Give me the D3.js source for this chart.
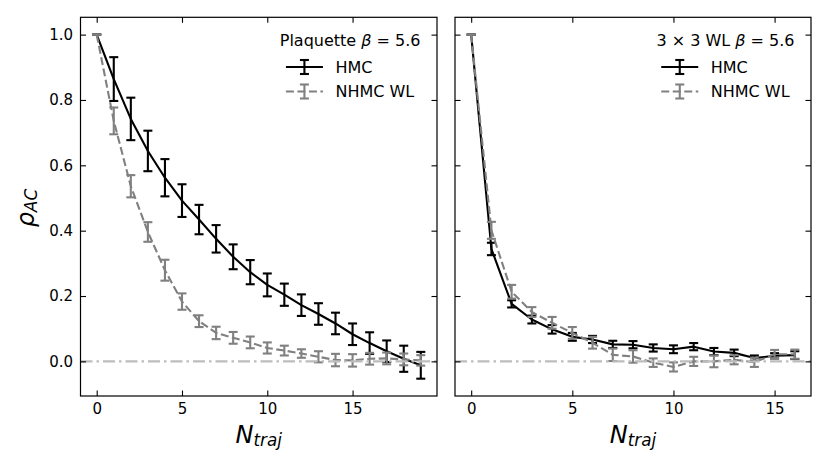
<!DOCTYPE html>
<html>
<head>
<meta charset="utf-8">
<script src="https://cdn.jsdelivr.net/npm/d3@7"></script>
<style>
  body { margin: 0; background: #fff; }
  text { font-family: "DejaVu Sans", sans-serif; fill: #000; }
</style>
</head>
<body>
<div id="chart"></div>
<script>
// Left panel: plaquette autocorrelation
const nTrajPlaq = [0, 1, 2, 3, 4, 5, 6, 7, 8, 9, 10, 11, 12, 13, 14, 15, 16, 17, 18, 19];
const hmcPlaq = [1.0, 0.864, 0.742, 0.644, 0.562, 0.492, 0.434, 0.375, 0.320, 0.273,
                 0.234, 0.204, 0.172, 0.145, 0.116, 0.083, 0.056, 0.031, 0.008, -0.012];
const hmcPlaqErr = [0, 0.067, 0.065, 0.062, 0.057, 0.050, 0.045, 0.042, 0.038, 0.037,
                    0.035, 0.034, 0.033, 0.033, 0.033, 0.033, 0.033, 0.033, 0.040, 0.041];
const nhmcPlaq = [1.0, 0.736, 0.536, 0.396, 0.279, 0.183, 0.123, 0.087, 0.072, 0.058,
                  0.041, 0.033, 0.024, 0.014, 0.004, 0.003, 0.008, 0.009, 0.006, 0.003];
const nhmcPlaqErr = [0, 0.041, 0.034, 0.030, 0.032, 0.025, 0.018, 0.019, 0.018, 0.018,
                     0.017, 0.015, 0.013, 0.017, 0.019, 0.019, 0.018, 0.018, 0.018, 0.016];

// Right panel: 3x3 Wilson loop autocorrelation
const nTrajWL = [0, 1, 2, 3, 4, 5, 6, 7, 8, 9, 10, 11, 12, 13, 14, 15, 16];
const hmcWL = [1.0, 0.344, 0.176, 0.128, 0.098, 0.075, 0.067, 0.052, 0.051, 0.041,
               0.037, 0.045, 0.030, 0.026, 0.010, 0.017, 0.019];
const hmcWLErr = [0, 0.019, 0.011, 0.012, 0.013, 0.012, 0.011, 0.011, 0.011, 0.011,
                  0.012, 0.011, 0.011, 0.010, 0.008, 0.008, 0.012];
const nhmcWL = [1.0, 0.401, 0.213, 0.151, 0.118, 0.087, 0.057, 0.020, 0.015, -0.004,
                -0.017, 0.000, 0.000, 0.005, -0.003, 0.022, 0.022];
const nhmcWLErr = [0, 0.026, 0.021, 0.015, 0.018, 0.018, 0.018, 0.019, 0.019, 0.013,
                   0.014, 0.014, 0.018, 0.014, 0.014, 0.013, 0.014];

const xTicks = [0, 5, 10, 15];
const yTicks = [0.0, 0.2, 0.4, 0.6, 0.8, 1.0];
const seriesNames = ["HMC", "NHMC WL"];

let config = {
  div: '#chart',
  width: 830,
  height: 475,
  top: 17.3,
  bottom: 396,
  yDomain: [-0.106, 1.053],
  tickLen: 5.5,
  fontTick: 15,
  fontLegend: 16,
  fontLabel: 24
};

const styles = [
  { color: '#000000', dash: null, lw: 2.1 },
  { color: '#808080', dash: '8,3.5', lw: 2.1 }
];

const svg = d3.select(config.div).append('svg')
  .attr('width', config.width)
  .attr('height', config.height);

function drawPanel(opt) {
  const xScale = d3.scaleLinear().domain(opt.xDomain).range([opt.left, opt.right]);
  const yScale = d3.scaleLinear().domain(config.yDomain).range([config.bottom, config.top]);
  const g = svg.append('g');

  // zero line (drawn after data below)
  const series = [
    { x: opt.xs, y: opt.hmc, e: opt.hmcErr, s: styles[0] },
    { x: opt.xs, y: opt.nhmc, e: opt.nhmcErr, s: styles[1] }
  ];

  const line = d3.line().x(d => xScale(d[0])).y(d => yScale(d[1]));
  const cap = 4.5;

  series.forEach(ser => {
    const pts = ser.x.map((x, i) => [x, ser.y[i], ser.e[i]]);
    const sg = g.append('g');
    sg.append('path')
      .attr('d', line(pts))
      .attr('fill', 'none')
      .attr('stroke', ser.s.color)
      .attr('stroke-width', ser.s.lw)
      .attr('stroke-dasharray', ser.s.dash)
      .attr('stroke-linejoin', 'round');
    const eb = sg.selectAll('g.eb').data(pts).enter().append('g')
      .attr('stroke', ser.s.color)
      .attr('stroke-width', ser.s.lw);
    eb.append('line')
      .attr('x1', d => xScale(d[0])).attr('x2', d => xScale(d[0]))
      .attr('y1', d => yScale(d[1] - d[2])).attr('y2', d => yScale(d[1] + d[2]));
    eb.append('line')
      .attr('x1', d => xScale(d[0]) - cap).attr('x2', d => xScale(d[0]) + cap)
      .attr('y1', d => yScale(d[1] + d[2])).attr('y2', d => yScale(d[1] + d[2]));
    eb.append('line')
      .attr('x1', d => xScale(d[0]) - cap).attr('x2', d => xScale(d[0]) + cap)
      .attr('y1', d => yScale(d[1] - d[2])).attr('y2', d => yScale(d[1] - d[2]));
  });

  // horizontal dash-dot line at zero
  g.append('line')
    .attr('x1', opt.left).attr('x2', opt.right)
    .attr('y1', yScale(0)).attr('y2', yScale(0))
    .attr('stroke', '#bdbdbd')
    .attr('stroke-width', 2.1)
    .attr('stroke-dasharray', '12,4,2.5,4');

  // axes with inward ticks on all sides
  const tl = config.tickLen;
  const xb = g.append('g').attr('transform', `translate(0,${config.bottom})`)
    .call(d3.axisBottom(xScale).tickValues(xTicks).tickSizeInner(-tl).tickSizeOuter(0).tickPadding(7.5));
  const xt = g.append('g').attr('transform', `translate(0,${config.top})`)
    .call(d3.axisTop(xScale).tickValues(xTicks).tickSizeInner(-tl).tickSizeOuter(0).tickFormat(''));
  const yl = g.append('g').attr('transform', `translate(${opt.left},0)`)
    .call(d3.axisLeft(yScale).tickValues(yTicks).tickSizeInner(-tl).tickSizeOuter(0).tickPadding(7.5)
      .tickFormat(opt.yLabels ? d3.format('.1f') : ''));
  const yr = g.append('g').attr('transform', `translate(${opt.right},0)`)
    .call(d3.axisRight(yScale).tickValues(yTicks).tickSizeInner(-tl).tickSizeOuter(0).tickFormat(''));
  [xb, xt, yl, yr].forEach(a => {
    a.select('.domain').remove();
    a.selectAll('line').attr('stroke', '#000').attr('stroke-width', 1.1);
    a.selectAll('text').style('font-family', '"DejaVu Sans", sans-serif')
      .style('font-size', config.fontTick + 'px').attr('fill', '#000');
  });

  // spines
  g.append('rect')
    .attr('x', opt.left).attr('y', config.top)
    .attr('width', opt.right - opt.left).attr('height', config.bottom - config.top)
    .attr('fill', 'none').attr('stroke', '#000').attr('stroke-width', 1.2);

  // x label N_traj
  const xl = g.append('text')
    .attr('x', (opt.left + opt.right) / 2).attr('y', 443)
    .attr('text-anchor', 'middle')
    .style('font-size', config.fontLabel + 'px')
    .style('font-style', 'italic');
  xl.append('tspan').text('N');
  xl.append('tspan').attr('dy', 3).style('font-size', (config.fontLabel * 0.7) + 'px').text('traj');

  drawLegend(g, opt);
}

function drawLegend(g, opt) {
  const fs = config.fontLegend;
  const lg = g.append('g');
  const title = lg.append('text')
    .attr('text-anchor', 'middle')
    .attr('y', 45.5)
    .style('font-size', fs + 'px');
  opt.title.forEach(t => {
    title.append('tspan').style('font-style', t.it ? 'italic' : 'normal').text(t.s);
  });
  const tw = title.node().getComputedTextLength();
  const cx = opt.right - 16.5 - tw / 2;
  title.attr('x', cx);

  const handleLen = 37, gap = 12.5;
  const rows = lg.append('g');
  const rowY = [67, 91.5];
  seriesNames.forEach((name, i) => {
    const s = styles[i];
    const r = rows.append('g').attr('transform', `translate(0,${rowY[i]})`);
    r.append('line').attr('x1', 0).attr('x2', handleLen).attr('y1', 0).attr('y2', 0)
      .attr('stroke', s.color).attr('stroke-width', s.lw).attr('stroke-dasharray', s.dash);
    const mx = handleLen / 2;
    r.append('line').attr('x1', mx).attr('x2', mx).attr('y1', -7).attr('y2', 7)
      .attr('stroke', s.color).attr('stroke-width', s.lw);
    [-7, 7].forEach(yy => r.append('line').attr('x1', mx - 4.5).attr('x2', mx + 4.5)
      .attr('y1', yy).attr('y2', yy).attr('stroke', s.color).attr('stroke-width', s.lw));
    r.append('text').attr('x', handleLen + gap).attr('y', 0).attr('dy', '0.36em')
      .style('font-size', fs + 'px').text(name);
  });
  const bw = rows.node().getBBox().width;
  rows.attr('transform', `translate(${cx - bw / 2},0)`);
}

drawPanel({
  left: 80.5, right: 437,
  xDomain: [-0.95, 19.95],
  xs: nTrajPlaq, hmc: hmcPlaq, hmcErr: hmcPlaqErr, nhmc: nhmcPlaq, nhmcErr: nhmcPlaqErr,
  yLabels: true,
  title: [{ s: 'Plaquette ' }, { s: 'β', it: true }, { s: ' = 5.6' }]
});

drawPanel({
  left: 455, right: 811,
  xDomain: [-0.8, 16.8],
  xs: nTrajWL, hmc: hmcWL, hmcErr: hmcWLErr, nhmc: nhmcWL, nhmcErr: nhmcWLErr,
  yLabels: false,
  title: [{ s: '3 × 3 WL ' }, { s: 'β', it: true }, { s: ' = 5.6' }]
});

// y label rho_AC
const yLab = svg.append('text')
  .attr('transform', 'translate(34,208) rotate(-90)')
  .attr('text-anchor', 'middle')
  .style('font-size', config.fontLabel + 'px')
  .style('font-style', 'italic');
yLab.append('tspan').text('ρ');
yLab.append('tspan').attr('dy', 3).style('font-size', (config.fontLabel * 0.7) + 'px').text('AC');
</script>
</body>
</html>
